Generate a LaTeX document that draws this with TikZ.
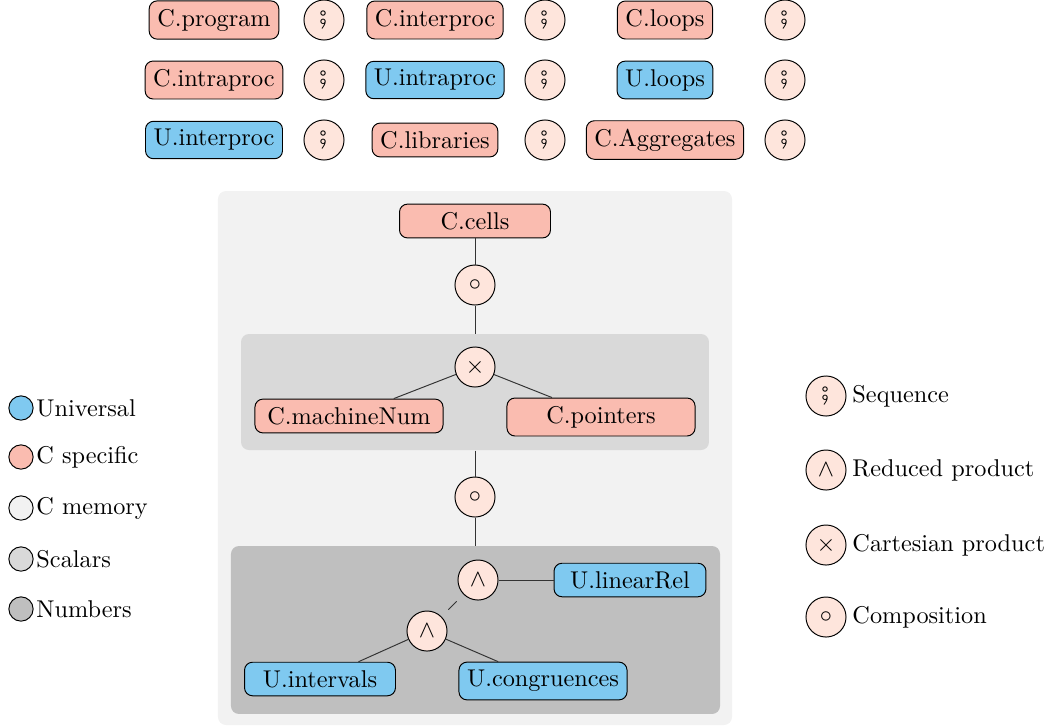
\documentclass[tikz,border=0pt]{standalone}
\usepackage{stmaryrd}
\definecolor{ublue}{RGB}{127,201,240}
\definecolor{csal}{RGB}{250,188,176}
\definecolor{opfill}{RGB}{254,229,220}
\definecolor{memc}{RGB}{242,242,242}
\definecolor{scalc}{RGB}{217,217,217}
\definecolor{numc}{RGB}{191,191,191}
\begin{document}
\begin{tikzpicture}[x=0.412pt,y=-0.412pt,
 dom/.style={draw, rounded corners=3.3pt, inner sep=3.33pt},
 udom/.style={dom, fill=ublue},
 cdom/.style={dom, fill=csal},
 op/.style={draw, circle, fill=opfill, minimum size=16.5pt, inner sep=0pt},
 cont/.style={rounded corners=3.3pt, inner sep=0pt},
 conn/.style={draw=black!80},
 leg/.style={draw, circle, minimum size=10pt, inner sep=0pt},
 legtxt/.style={anchor=west, inner sep=0pt}]
\useasboundingbox (0,0) rectangle (1057,727);

% containers
\node[cont, fill=memc, minimum width=211.8pt, minimum height=220pt] (mem) at (475,458) {};
\node[cont, fill=scalc, minimum width=192.8pt, minimum height=47.8pt] (scal) at (475,392) {};
\node[cont, fill=numc, minimum width=201.5pt, minimum height=69.2pt] (num) at (475.5,630) {};

% top rows
\node[cdom] (cprog) at (214,20) {C.program};
\node[op] (s11) at (324,20) {$\fatsemi$};
\node[cdom] (cinter) at (435,20) {C.interproc};
\node[op] (s12) at (545,20) {$\fatsemi$};
\node[cdom] (cloops) at (665,20) {C.loops};
\node[op] (s13) at (785,20) {$\fatsemi$};

\node[cdom] (cintra) at (214,80) {C.intraproc};
\node[op] (s21) at (324,80) {$\fatsemi$};
\node[udom] (uintra) at (435,80) {U.intraproc};
\node[op] (s22) at (545,80) {$\fatsemi$};
\node[udom] (uloops) at (665,80) {U.loops};
\node[op] (s23) at (785,80) {$\fatsemi$};

\node[udom] (uinter) at (214,140) {U.interproc};
\node[op] (s31) at (324,140) {$\fatsemi$};
\node[cdom] (clib) at (435,140) {C.libraries};
\node[op] (s32) at (545,140) {$\fatsemi$};
\node[cdom] (cagg) at (665,140) {C.Aggregates};
\node[op] (s33) at (785,140) {$\fatsemi$};

% memory tree
\node[cdom, minimum width=62.2pt] (cells) at (475,221) {C.cells};
\node[op] (comp1) at (475,285) {$\circ$};
\node[op] (cart) at (475,367) {$\times$};
\node[cdom, minimum width=77.5pt] (mnum) at (349,416) {C.machineNum};
\node[cdom, minimum width=77.5pt] (ptr) at (601,417) {C.pointers};
\node[op] (comp2) at (475,497) {$\circ$};
\node[op] (red1) at (478,580) {$\wedge$};
\node[udom, minimum width=62.6pt] (lin) at (630,580) {U.linearRel};
\node[op] (red2) at (427,631) {$\wedge$};
\node[udom, minimum width=62.2pt] (itv) at (320,679) {U.intervals};
\node[udom] (cong) at (543,681) {U.congruences};

\draw[conn] (cells) -- (comp1);
\draw[conn] (comp1) -- (scal);
\draw[conn] (cart) -- (mnum);
\draw[conn] (cart) -- (ptr);
\draw[conn] (scal) -- (comp2);
\draw[conn] (comp2) -- (comp2 |- num.north);
\draw[conn] (red1) -- (lin);
\draw[conn, shorten <=4pt, shorten >=4pt] (red2) -- (red1);
\draw[conn] (red2) -- (itv);
\draw[conn] (red2) -- (cong);

% left legend
\node[leg, fill=ublue] (l1) at (21,408) {};
\node[legtxt] (t1) at (36,408) {Universal};
\node[leg, fill=csal] (l2) at (21,457) {};
\node[legtxt] (t2) at (36,457) {C specific};
\node[leg, fill=memc] (l3) at (21,508) {};
\node[legtxt] (t3) at (36,508) {C memory};
\node[leg, fill=scalc] (l4) at (21,559) {};
\node[legtxt] (t4) at (36,559) {Scalars};
\node[leg, fill=numc] (l5) at (21,609) {};
\node[legtxt] (t5) at (36,609) {Numbers};

% right legend
\node[op] (r1) at (826,396) {$\fatsemi$};
\node[legtxt] (rt1) at (852,396) {Sequence};
\node[op] (r2) at (826,470) {$\wedge$};
\node[legtxt] (rt2) at (852,470) {Reduced product};
\node[op] (r3) at (826,545) {$\times$};
\node[legtxt] (rt3) at (852,545) {Cartesian product};
\node[op] (r4) at (826,617) {$\circ$};
\node[legtxt] (rt4) at (852,617) {Composition};
\end{tikzpicture}
\end{document}
